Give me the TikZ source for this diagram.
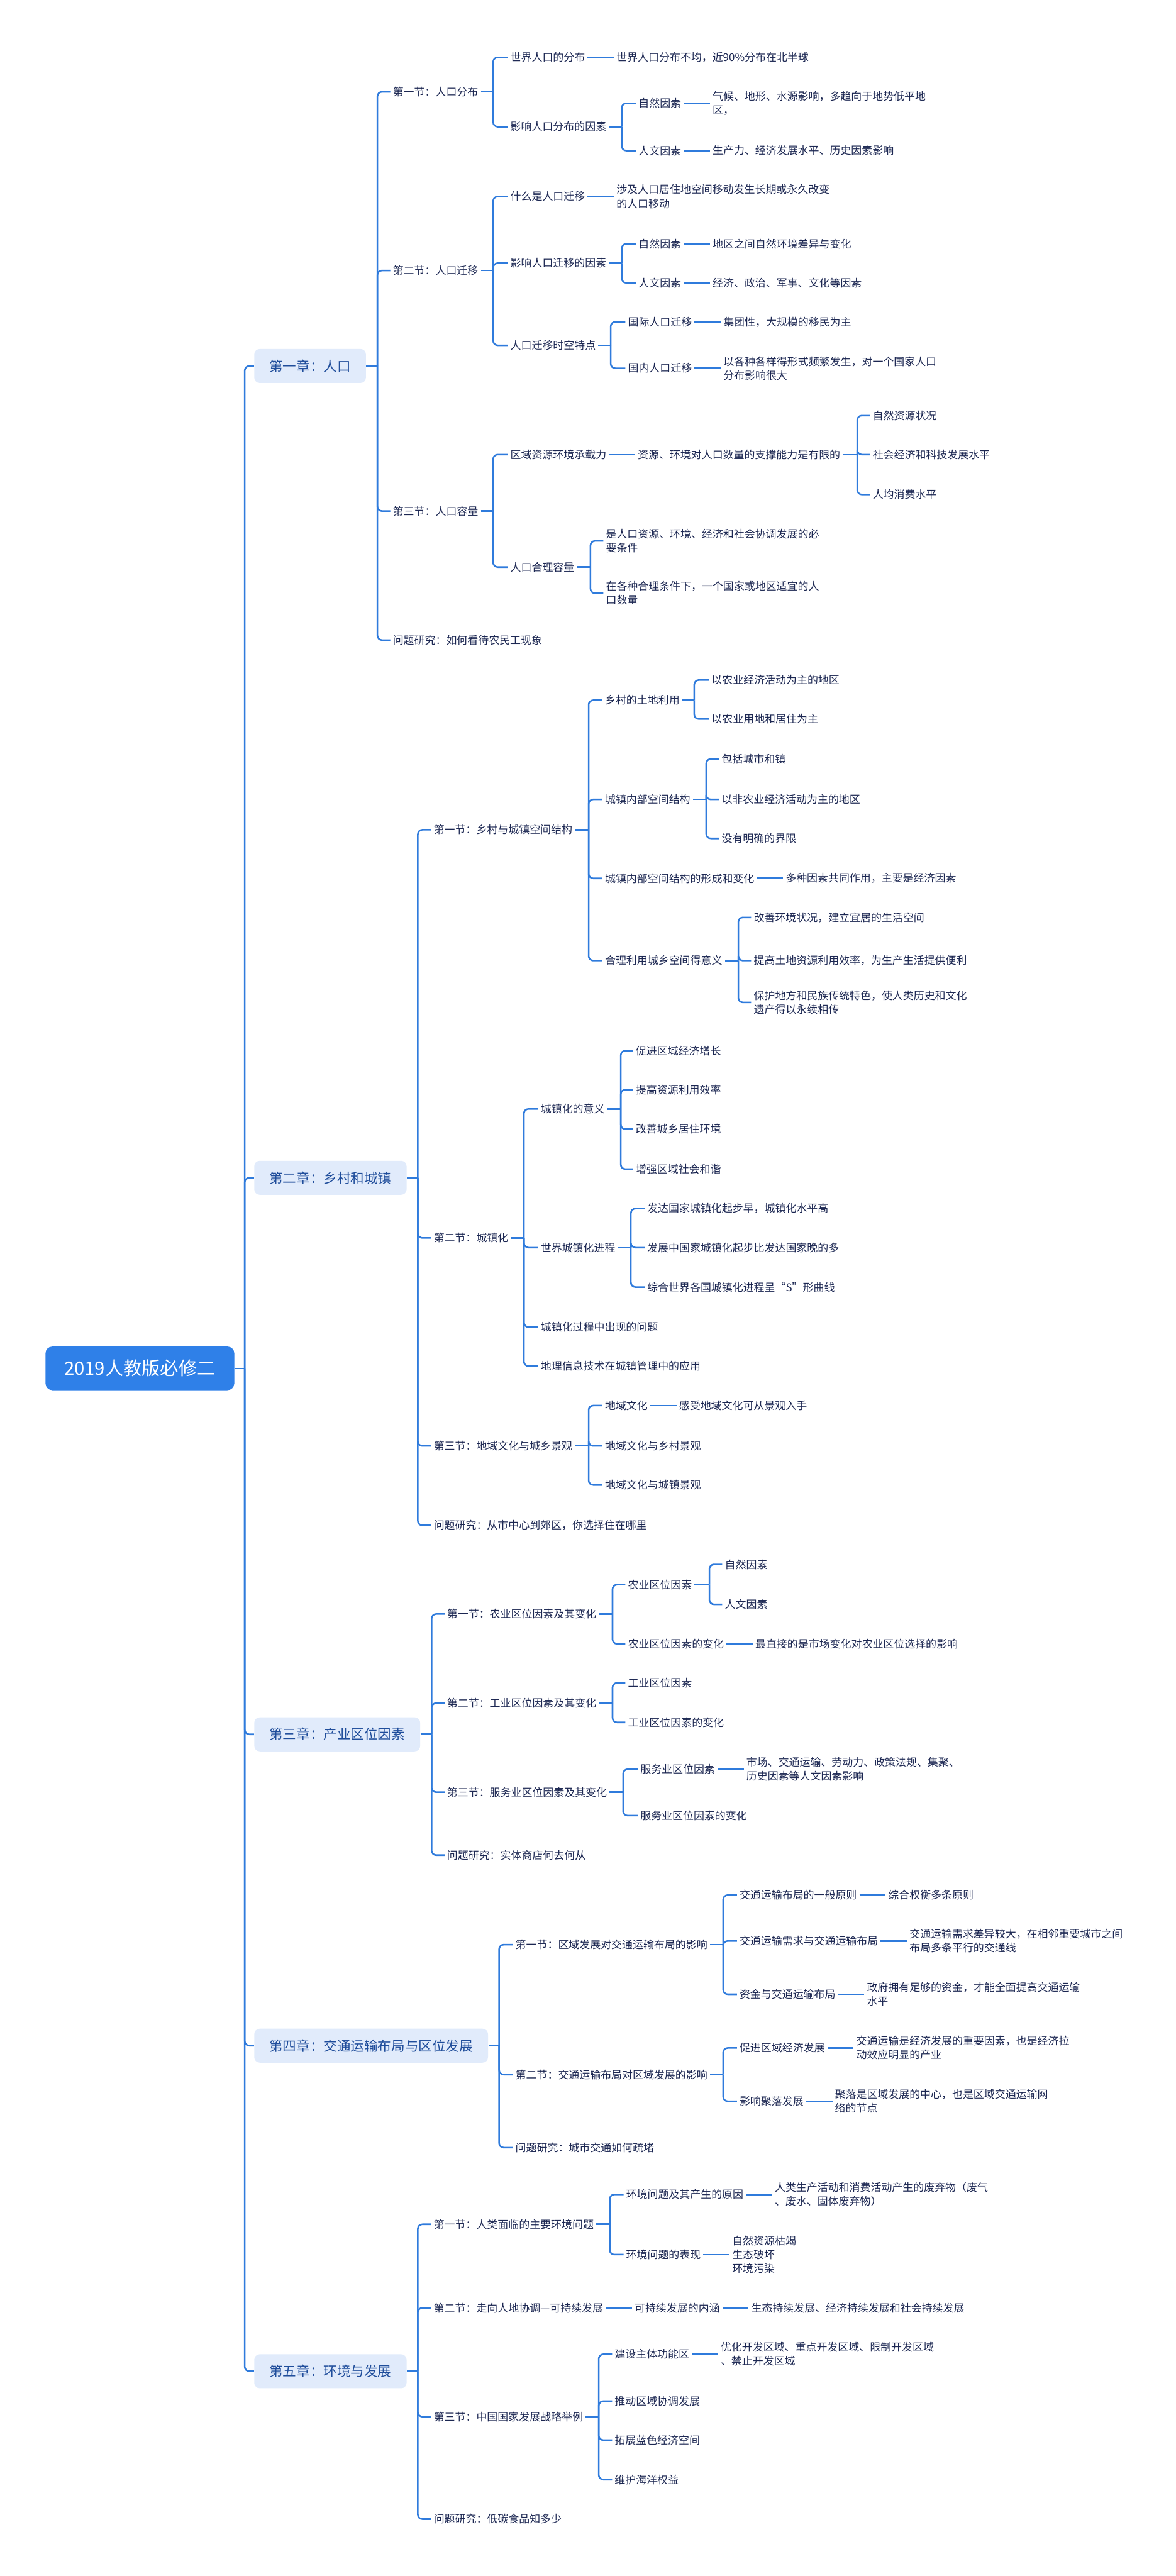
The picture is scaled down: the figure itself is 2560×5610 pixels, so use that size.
\documentclass[tikz,border=0pt]{standalone}
\usepackage{fontspec}
\setmainfont{Noto Sans CJK SC}
\usepackage{xcolor}
\usepackage{tikz}
\usetikzlibrary{positioning}
\definecolor{mainblue}{HTML}{2F80E8}
\definecolor{lineblue}{HTML}{2F7BDC}
\definecolor{chapfill}{HTML}{E1EBFB}
\definecolor{chaptext}{HTML}{1F4D9B}
\definecolor{leaftext}{HTML}{1C2752}

\begin{document}
\begin{tikzpicture}[
    x=0.01cm, y=-0.01cm,
    rootbox/.style={rectangle, fill=mainblue, rounded corners=0.15cm, text=white, font=\fontsize{11.4}{13}\selectfont, minimum width=4.11cm, minimum height=0.95cm, anchor=east},
    chapbox/.style={rectangle, fill=chapfill, rounded corners=0.12cm, text=chaptext, font=\fontsize{8.4}{10}\selectfont, inner xsep=0.33cm, minimum height=0.74cm, anchor=west},
    leaf/.style={inner sep=0.05cm, text=leaftext, font=\fontsize{6.6}{8.6}\selectfont, align=left, anchor=west},
    link/.style={draw=lineblue, line width=0.035cm},
    branch/.style={link, rounded corners=0.1cm}
]
\useasboundingbox (0,0) rectangle (2560,5610);

\node[rootbox] (root) at (511,2980) {2019人教版必修二};
\coordinate (root-bus) at (533,2980);

% chapter 1
\node[chapbox] (c1) at (553,797) {第一章：人口};
\coordinate (c1-bus) at (822,797);
\node[leaf] (c1-1) at (850,200) {第一节：人口分布};
\coordinate (c1-1-bus) at (1074,200);
\node[leaf] (c1-1-1) at (1106,125) {世界人口的分布};
\node[leaf, right=0.57cm of c1-1-1] (c1-1-1a) {世界人口分布不均，近90\%分布在北半球};
\node[leaf] (c1-1-2) at (1106,276) {影响人口分布的因素};
\coordinate (c1-1-2-bus) at (1354,276);
\node[leaf] (c1-1-2-1) at (1385,225) {自然因素};
\node[leaf, right=0.57cm of c1-1-2-1] (c1-1-2-1a) {气候、地形、水源影响，多趋向于地势低平地\\区，};
\node[leaf] (c1-1-2-2) at (1385,328) {人文因素};
\node[leaf, right=0.57cm of c1-1-2-2] (c1-1-2-2a) {生产力、经济发展水平、历史因素影响};
\node[leaf] (c1-2) at (850,589) {第二节：人口迁移};
\coordinate (c1-2-bus) at (1074,589);
\node[leaf] (c1-2-1) at (1106,428) {什么是人口迁移};
\node[leaf, right=0.57cm of c1-2-1] (c1-2-1a) {涉及人口居住地空间移动发生长期或永久改变\\的人口移动};
\node[leaf] (c1-2-2) at (1106,573) {影响人口迁移的因素};
\coordinate (c1-2-2-bus) at (1354,573);
\node[leaf] (c1-2-2-1) at (1385,531) {自然因素};
\node[leaf, right=0.57cm of c1-2-2-1] (c1-2-2-1a) {地区之间自然环境差异与变化};
\node[leaf] (c1-2-2-2) at (1385,616) {人文因素};
\node[leaf, right=0.57cm of c1-2-2-2] (c1-2-2-2a) {经济、政治、军事、文化等因素};
\node[leaf] (c1-2-3) at (1106,752) {人口迁移时空特点};
\coordinate (c1-2-3-bus) at (1330,752);
\node[leaf] (c1-2-3-1) at (1362,701) {国际人口迁移};
\node[leaf, right=0.57cm of c1-2-3-1] (c1-2-3-1a) {集团性，大规模的移民为主};
\node[leaf] (c1-2-3-2) at (1362,802) {国内人口迁移};
\node[leaf, right=0.57cm of c1-2-3-2] (c1-2-3-2a) {以各种各样得形式频繁发生，对一个国家人口\\分布影响很大};
\node[leaf] (c1-3) at (850,1113) {第三节：人口容量};
\coordinate (c1-3-bus) at (1074,1113);
\node[leaf] (c1-3-1) at (1106,990) {区域资源环境承载力};
\node[leaf, right=0.57cm of c1-3-1] (c1-3-1a) {资源、环境对人口数量的支撑能力是有限的};
\coordinate (c1-3-1a-bus) at (1867,990);
\node[leaf] (c1-3-1a-1) at (1895,905) {自然资源状况};
\node[leaf] (c1-3-1a-2) at (1895,990) {社会经济和科技发展水平};
\node[leaf] (c1-3-1a-3) at (1895,1077) {人均消费水平};
\node[leaf] (c1-3-2) at (1106,1235) {人口合理容量};
\coordinate (c1-3-2-bus) at (1286,1235);
\node[leaf] (c1-3-2-1) at (1314,1178) {是人口资源、环境、经济和社会协调发展的必\\要条件};
\node[leaf] (c1-3-2-2) at (1314,1292) {在各种合理条件下，一个国家或地区适宜的人\\口数量};
\node[leaf] (c1-4) at (850,1394) {问题研究：如何看待农民工现象};

% chapter 2
\node[chapbox] (c2) at (553,2565) {第二章：乡村和城镇};
\coordinate (c2-bus) at (910,2565);
\node[leaf] (c2-1) at (939,1807) {第一节：乡村与城镇空间结构};
\coordinate (c2-1-bus) at (1282,1807);
\node[leaf] (c2-1-1) at (1312,1525) {乡村的土地利用};
\coordinate (c2-1-1-bus) at (1512,1525);
\node[leaf] (c2-1-1-1) at (1544,1481) {以农业经济活动为主的地区};
\node[leaf] (c2-1-1-2) at (1544,1566) {以农业用地和居住为主};
\node[leaf] (c2-1-2) at (1312,1741) {城镇内部空间结构};
\coordinate (c2-1-2-bus) at (1538,1741);
\node[leaf] (c2-1-2-1) at (1566,1653) {包括城市和镇};
\node[leaf] (c2-1-2-2) at (1566,1741) {以非农业经济活动为主的地区};
\node[leaf] (c2-1-2-3) at (1566,1826) {没有明确的界限};
\node[leaf] (c2-1-3) at (1312,1913) {城镇内部空间结构的形成和变化};
\node[leaf, right=0.57cm of c2-1-3] (c2-1-3a) {多种因素共同作用，主要是经济因素};
\node[leaf] (c2-1-4) at (1312,2092) {合理利用城乡空间得意义};
\coordinate (c2-1-4-bus) at (1608,2092);
\node[leaf] (c2-1-4-1) at (1636,1998) {改善环境状况，建立宜居的生活空间};
\node[leaf] (c2-1-4-2) at (1636,2092) {提高土地资源利用效率，为生产生活提供便利};
\node[leaf] (c2-1-4-3) at (1636,2183) {保护地方和民族传统特色，使人类历史和文化\\遗产得以永续相传};
\node[leaf] (c2-2) at (939,2696) {第二节：城镇化};
\coordinate (c2-2-bus) at (1141,2696);
\node[leaf] (c2-2-1) at (1172,2415) {城镇化的意义};
\coordinate (c2-2-1-bus) at (1352,2415);
\node[leaf] (c2-2-1-1) at (1379,2288) {促进区域经济增长};
\node[leaf] (c2-2-1-2) at (1379,2373) {提高资源利用效率};
\node[leaf] (c2-2-1-3) at (1379,2459) {改善城乡居住环境};
\node[leaf] (c2-2-1-4) at (1379,2546) {增强区域社会和谐};
\node[leaf] (c2-2-2) at (1172,2717) {世界城镇化进程};
\coordinate (c2-2-2-bus) at (1374,2717);
\node[leaf] (c2-2-2-1) at (1404,2632) {发达国家城镇化起步早，城镇化水平高};
\node[leaf] (c2-2-2-2) at (1404,2717) {发展中国家城镇化起步比发达国家晚的多};
\node[leaf] (c2-2-2-3) at (1404,2803) {综合世界各国城镇化进程呈“S”形曲线};
\node[leaf] (c2-2-3) at (1172,2890) {城镇化过程中出现的问题};
\node[leaf] (c2-2-4) at (1172,2975) {地理信息技术在城镇管理中的应用};
\node[leaf] (c2-3) at (939,3149) {第三节：地域文化与城乡景观};
\coordinate (c2-3-bus) at (1282,3149);
\node[leaf] (c2-3-1) at (1312,3061) {地域文化};
\node[leaf, right=0.57cm of c2-3-1] (c2-3-1a) {感受地域文化可从景观入手};
\node[leaf] (c2-3-2) at (1312,3149) {地域文化与乡村景观};
\node[leaf] (c2-3-3) at (1312,3234) {地域文化与城镇景观};
\node[leaf] (c2-4) at (939,3322) {问题研究：从市中心到郊区，你选择住在哪里};

% chapter 3
\node[chapbox] (c3) at (553,3777) {第三章：产业区位因素};
\coordinate (c3-bus) at (940,3777);
\node[leaf] (c3-1) at (968,3515) {第一节：农业区位因素及其变化};
\coordinate (c3-1-bus) at (1334,3515);
\node[leaf] (c3-1-1) at (1362,3451) {农业区位因素};
\coordinate (c3-1-1-bus) at (1545,3451);
\node[leaf] (c3-1-1-1) at (1573,3407) {自然因素};
\node[leaf] (c3-1-1-2) at (1573,3494) {人文因素};
\node[leaf] (c3-1-2) at (1362,3580) {农业区位因素的变化};
\node[leaf, right=0.57cm of c3-1-2] (c3-1-2a) {最直接的是市场变化对农业区位选择的影响};
\node[leaf] (c3-2) at (968,3709) {第二节：工业区位因素及其变化};
\coordinate (c3-2-bus) at (1334,3709);
\node[leaf] (c3-2-1) at (1362,3665) {工业区位因素};
\node[leaf] (c3-2-2) at (1362,3751) {工业区位因素的变化};
\node[leaf] (c3-3) at (968,3903) {第三节：服务业区位因素及其变化};
\coordinate (c3-3-bus) at (1357,3903);
\node[leaf] (c3-3-1) at (1389,3853) {服务业区位因素};
\node[leaf, right=0.57cm of c3-3-1] (c3-3-1a) {市场、交通运输、劳动力、政策法规、集聚、\\历史因素等人文因素影响};
\node[leaf] (c3-3-2) at (1389,3954) {服务业区位因素的变化};
\node[leaf] (c3-4) at (968,4040) {问题研究：实体商店何去何从};

% chapter 4
\node[chapbox] (c4) at (553,4455) {第四章：交通运输布局与区位发展};
\coordinate (c4-bus) at (1087,4455);
\node[leaf] (c4-1) at (1117,4235) {第一节：区域发展对交通运输布局的影响};
\coordinate (c4-1-bus) at (1575,4235);
\node[leaf] (c4-1-1) at (1605,4127) {交通运输布局的一般原则};
\node[leaf, right=0.57cm of c4-1-1] (c4-1-1a) {综合权衡多条原则};
\node[leaf] (c4-1-2) at (1605,4227) {交通运输需求与交通运输布局};
\node[leaf, right=0.57cm of c4-1-2] (c4-1-2a) {交通运输需求差异较大，在相邻重要城市之间\\布局多条平行的交通线};
\node[leaf] (c4-1-3) at (1605,4343) {资金与交通运输布局};
\node[leaf, right=0.57cm of c4-1-3] (c4-1-3a) {政府拥有足够的资金，才能全面提高交通运输\\水平};
\node[leaf] (c4-2) at (1117,4518) {第二节：交通运输布局对区域发展的影响};
\coordinate (c4-2-bus) at (1575,4518);
\node[leaf] (c4-2-1) at (1605,4460) {促进区域经济发展};
\node[leaf, right=0.57cm of c4-2-1] (c4-2-1a) {交通运输是经济发展的重要因素，也是经济拉\\动效应明显的产业};
\node[leaf] (c4-2-2) at (1605,4576) {影响聚落发展};
\node[leaf, right=0.57cm of c4-2-2] (c4-2-2a) {聚落是区域发展的中心，也是区域交通运输网\\络的节点};
\node[leaf] (c4-3) at (1117,4677) {问题研究：城市交通如何疏堵};

% chapter 5
\node[chapbox] (c5) at (553,5164) {第五章：环境与发展};
\coordinate (c5-bus) at (910,5164);
\node[leaf] (c5-1) at (939,4844) {第一节：人类面临的主要环境问题};
\coordinate (c5-1-bus) at (1328,4844);
\node[leaf] (c5-1-1) at (1358,4779) {环境问题及其产生的原因};
\node[leaf, right=0.57cm of c5-1-1] (c5-1-1a) {人类生产活动和消费活动产生的废弃物（废气\\、废水、固体废弃物）};
\node[leaf] (c5-1-2) at (1358,4910) {环境问题的表现};
\node[leaf, right=0.57cm of c5-1-2] (c5-1-2a) {自然资源枯竭\\生态破坏\\环境污染};
\node[leaf] (c5-2) at (939,5026) {第二节：走向人地协调—可持续发展};
\node[leaf, right=0.57cm of c5-2] (c5-2a) {可持续发展的内涵};
\node[leaf, right=0.57cm of c5-2a] (c5-2b) {生态持续发展、经济持续发展和社会持续发展};
\node[leaf] (c5-3) at (939,5263) {第三节：中国国家发展战略举例};
\coordinate (c5-3-bus) at (1304,5263);
\node[leaf] (c5-3-1) at (1333,5127) {建设主体功能区};
\node[leaf, right=0.57cm of c5-3-1] (c5-3-1a) {优化开发区域、重点开发区域、限制开发区域\\、禁止开发区域};
\node[leaf] (c5-3-2) at (1333,5229) {推动区域协调发展};
\node[leaf] (c5-3-3) at (1333,5314) {拓展蓝色经济空间};
\node[leaf] (c5-3-4) at (1333,5400) {维护海洋权益};
\node[leaf] (c5-4) at (939,5486) {问题研究：低碳食品知多少};

% connectors
\draw[link] (root.east) -- (root-bus);
\draw[branch] (root-bus) |- (c1.west);
\draw[branch] (root-bus) |- (c2.west);
\draw[branch] (root-bus) |- (c3.west);
\draw[branch] (root-bus) |- (c4.west);
\draw[branch] (root-bus) |- (c5.west);

\draw[link] (c1.east) -- (c1-bus);
\draw[branch] (c1-bus) |- (c1-1.west);
\draw[branch] (c1-bus) |- (c1-2.west);
\draw[branch] (c1-bus) |- (c1-3.west);
\draw[branch] (c1-bus) |- (c1-4.west);
\draw[link] (c1-1.east) -- (c1-1-bus);
\draw[branch] (c1-1-bus) |- (c1-1-1.west);
\draw[branch] (c1-1-bus) |- (c1-1-2.west);
\draw[link] (c1-1-1.east) -- (c1-1-1a.west);
\draw[link] (c1-1-2.east) -- (c1-1-2-bus);
\draw[branch] (c1-1-2-bus) |- (c1-1-2-1.west);
\draw[branch] (c1-1-2-bus) |- (c1-1-2-2.west);
\draw[link] (c1-1-2-1.east) -- (c1-1-2-1a.west);
\draw[link] (c1-1-2-2.east) -- (c1-1-2-2a.west);
\draw[link] (c1-2.east) -- (c1-2-bus);
\draw[branch] (c1-2-bus) |- (c1-2-1.west);
\draw[branch] (c1-2-bus) |- (c1-2-2.west);
\draw[branch] (c1-2-bus) |- (c1-2-3.west);
\draw[link] (c1-2-1.east) -- (c1-2-1a.west);
\draw[link] (c1-2-2.east) -- (c1-2-2-bus);
\draw[branch] (c1-2-2-bus) |- (c1-2-2-1.west);
\draw[branch] (c1-2-2-bus) |- (c1-2-2-2.west);
\draw[link] (c1-2-2-1.east) -- (c1-2-2-1a.west);
\draw[link] (c1-2-2-2.east) -- (c1-2-2-2a.west);
\draw[link] (c1-2-3.east) -- (c1-2-3-bus);
\draw[branch] (c1-2-3-bus) |- (c1-2-3-1.west);
\draw[branch] (c1-2-3-bus) |- (c1-2-3-2.west);
\draw[link] (c1-2-3-1.east) -- (c1-2-3-1a.west);
\draw[link] (c1-2-3-2.east) -- (c1-2-3-2a.west);
\draw[link] (c1-3.east) -- (c1-3-bus);
\draw[branch] (c1-3-bus) |- (c1-3-1.west);
\draw[branch] (c1-3-bus) |- (c1-3-2.west);
\draw[link] (c1-3-1.east) -- (c1-3-1a.west);
\draw[link] (c1-3-1a.east) -- (c1-3-1a-bus);
\draw[branch] (c1-3-1a-bus) |- (c1-3-1a-1.west);
\draw[branch] (c1-3-1a-bus) |- (c1-3-1a-2.west);
\draw[branch] (c1-3-1a-bus) |- (c1-3-1a-3.west);
\draw[link] (c1-3-2.east) -- (c1-3-2-bus);
\draw[branch] (c1-3-2-bus) |- (c1-3-2-1.west);
\draw[branch] (c1-3-2-bus) |- (c1-3-2-2.west);

\draw[link] (c2.east) -- (c2-bus);
\draw[branch] (c2-bus) |- (c2-1.west);
\draw[branch] (c2-bus) |- (c2-2.west);
\draw[branch] (c2-bus) |- (c2-3.west);
\draw[branch] (c2-bus) |- (c2-4.west);
\draw[link] (c2-1.east) -- (c2-1-bus);
\draw[branch] (c2-1-bus) |- (c2-1-1.west);
\draw[branch] (c2-1-bus) |- (c2-1-2.west);
\draw[branch] (c2-1-bus) |- (c2-1-3.west);
\draw[branch] (c2-1-bus) |- (c2-1-4.west);
\draw[link] (c2-1-1.east) -- (c2-1-1-bus);
\draw[branch] (c2-1-1-bus) |- (c2-1-1-1.west);
\draw[branch] (c2-1-1-bus) |- (c2-1-1-2.west);
\draw[link] (c2-1-2.east) -- (c2-1-2-bus);
\draw[branch] (c2-1-2-bus) |- (c2-1-2-1.west);
\draw[branch] (c2-1-2-bus) |- (c2-1-2-2.west);
\draw[branch] (c2-1-2-bus) |- (c2-1-2-3.west);
\draw[link] (c2-1-3.east) -- (c2-1-3a.west);
\draw[link] (c2-1-4.east) -- (c2-1-4-bus);
\draw[branch] (c2-1-4-bus) |- (c2-1-4-1.west);
\draw[branch] (c2-1-4-bus) |- (c2-1-4-2.west);
\draw[branch] (c2-1-4-bus) |- (c2-1-4-3.west);
\draw[link] (c2-2.east) -- (c2-2-bus);
\draw[branch] (c2-2-bus) |- (c2-2-1.west);
\draw[branch] (c2-2-bus) |- (c2-2-2.west);
\draw[branch] (c2-2-bus) |- (c2-2-3.west);
\draw[branch] (c2-2-bus) |- (c2-2-4.west);
\draw[link] (c2-2-1.east) -- (c2-2-1-bus);
\draw[branch] (c2-2-1-bus) |- (c2-2-1-1.west);
\draw[branch] (c2-2-1-bus) |- (c2-2-1-2.west);
\draw[branch] (c2-2-1-bus) |- (c2-2-1-3.west);
\draw[branch] (c2-2-1-bus) |- (c2-2-1-4.west);
\draw[link] (c2-2-2.east) -- (c2-2-2-bus);
\draw[branch] (c2-2-2-bus) |- (c2-2-2-1.west);
\draw[branch] (c2-2-2-bus) |- (c2-2-2-2.west);
\draw[branch] (c2-2-2-bus) |- (c2-2-2-3.west);
\draw[link] (c2-3.east) -- (c2-3-bus);
\draw[branch] (c2-3-bus) |- (c2-3-1.west);
\draw[branch] (c2-3-bus) |- (c2-3-2.west);
\draw[branch] (c2-3-bus) |- (c2-3-3.west);
\draw[link] (c2-3-1.east) -- (c2-3-1a.west);

\draw[link] (c3.east) -- (c3-bus);
\draw[branch] (c3-bus) |- (c3-1.west);
\draw[branch] (c3-bus) |- (c3-2.west);
\draw[branch] (c3-bus) |- (c3-3.west);
\draw[branch] (c3-bus) |- (c3-4.west);
\draw[link] (c3-1.east) -- (c3-1-bus);
\draw[branch] (c3-1-bus) |- (c3-1-1.west);
\draw[branch] (c3-1-bus) |- (c3-1-2.west);
\draw[link] (c3-1-1.east) -- (c3-1-1-bus);
\draw[branch] (c3-1-1-bus) |- (c3-1-1-1.west);
\draw[branch] (c3-1-1-bus) |- (c3-1-1-2.west);
\draw[link] (c3-1-2.east) -- (c3-1-2a.west);
\draw[link] (c3-2.east) -- (c3-2-bus);
\draw[branch] (c3-2-bus) |- (c3-2-1.west);
\draw[branch] (c3-2-bus) |- (c3-2-2.west);
\draw[link] (c3-3.east) -- (c3-3-bus);
\draw[branch] (c3-3-bus) |- (c3-3-1.west);
\draw[branch] (c3-3-bus) |- (c3-3-2.west);
\draw[link] (c3-3-1.east) -- (c3-3-1a.west);

\draw[link] (c4.east) -- (c4-bus);
\draw[branch] (c4-bus) |- (c4-1.west);
\draw[branch] (c4-bus) |- (c4-2.west);
\draw[branch] (c4-bus) |- (c4-3.west);
\draw[link] (c4-1.east) -- (c4-1-bus);
\draw[branch] (c4-1-bus) |- (c4-1-1.west);
\draw[branch] (c4-1-bus) |- (c4-1-2.west);
\draw[branch] (c4-1-bus) |- (c4-1-3.west);
\draw[link] (c4-1-1.east) -- (c4-1-1a.west);
\draw[link] (c4-1-2.east) -- (c4-1-2a.west);
\draw[link] (c4-1-3.east) -- (c4-1-3a.west);
\draw[link] (c4-2.east) -- (c4-2-bus);
\draw[branch] (c4-2-bus) |- (c4-2-1.west);
\draw[branch] (c4-2-bus) |- (c4-2-2.west);
\draw[link] (c4-2-1.east) -- (c4-2-1a.west);
\draw[link] (c4-2-2.east) -- (c4-2-2a.west);

\draw[link] (c5.east) -- (c5-bus);
\draw[branch] (c5-bus) |- (c5-1.west);
\draw[branch] (c5-bus) |- (c5-2.west);
\draw[branch] (c5-bus) |- (c5-3.west);
\draw[branch] (c5-bus) |- (c5-4.west);
\draw[link] (c5-1.east) -- (c5-1-bus);
\draw[branch] (c5-1-bus) |- (c5-1-1.west);
\draw[branch] (c5-1-bus) |- (c5-1-2.west);
\draw[link] (c5-1-1.east) -- (c5-1-1a.west);
\draw[link] (c5-1-2.east) -- (c5-1-2a.west);
\draw[link] (c5-2.east) -- (c5-2a.west);
\draw[link] (c5-2a.east) -- (c5-2b.west);
\draw[link] (c5-3.east) -- (c5-3-bus);
\draw[branch] (c5-3-bus) |- (c5-3-1.west);
\draw[branch] (c5-3-bus) |- (c5-3-2.west);
\draw[branch] (c5-3-bus) |- (c5-3-3.west);
\draw[branch] (c5-3-bus) |- (c5-3-4.west);
\draw[link] (c5-3-1.east) -- (c5-3-1a.west);
\end{tikzpicture}
\end{document}
